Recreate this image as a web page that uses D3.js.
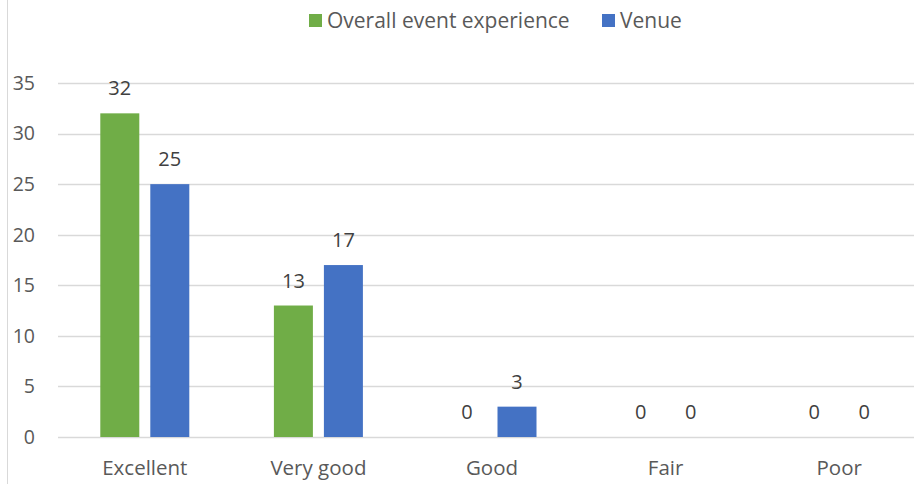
<!DOCTYPE html>
<html>
<head>
<meta charset="utf-8">
<script src="https://cdn.jsdelivr.net/npm/d3@7"></script>
<style>
  body { margin: 0; background: #fff; }
  svg { display: block; font-family: 'Open Sans', sans-serif; }
</style>
</head>
<body>
<svg></svg>
<script>
const categories = ['Excellent', 'Very good', 'Good', 'Fair', 'Poor'];
const seriesNames = ['Overall event experience', 'Venue'];
const overall = [32, 13, 0, 0, 0];
const venue = [25, 17, 3, 0, 0];
const yTicks = [0, 5, 10, 15, 20, 25, 30, 35];
const colors = ['#70ad47', '#4472c4'];

const width = 914;
const height = 484;
const margin = { top: 83, right: -12, bottom: 47, left: 58 };

const svg = d3.select('svg')
    .attr('width', width)
    .attr('height', height);

// chart border on the left
svg.append('line')
    .attr('x1', 7.5).attr('x2', 7.5)
    .attr('y1', 0).attr('y2', height)
    .attr('stroke', '#d9d9d9');

const x0 = d3.scaleBand()
    .domain(categories)
    .range([margin.left, width - margin.right]);

const y = d3.scaleLinear()
    .domain([0, 35])
    .range([height - margin.bottom, margin.top]);

const barW = 39;
const gap = 11;
const offsets = [-(barW + gap) / 2, (barW + gap) / 2];

// gridlines
svg.append('g')
  .selectAll('line')
  .data(yTicks)
  .enter().append('line')
    .attr('x1', margin.left)
    .attr('x2', width)
    .attr('y1', d => Math.round(y(d)) + 0.5)
    .attr('y2', d => Math.round(y(d)) + 0.5)
    .attr('stroke', '#d9d9d9')
    .attr('stroke-width', 1.3);

// y labels
svg.append('g')
  .selectAll('text')
  .data(yTicks)
  .enter().append('text')
    .attr('x', 35)
    .attr('y', d => y(d))
    .attr('dy', '0.35em')
    .attr('text-anchor', 'end')
    .attr('fill', '#595959')
    .style('font-size', '19.5px')
    .text(d => d);

// category labels
svg.append('g')
  .selectAll('text')
  .data(categories)
  .enter().append('text')
    .attr('x', d => x0(d) + x0.bandwidth() / 2)
    .attr('y', 468)
    .attr('dy', '0.35em')
    .attr('text-anchor', 'middle')
    .attr('fill', '#595959')
    .style('font-size', '20.5px')
    .text(d => d);

const series = [overall, venue];
series.forEach((vals, si) => {
  const g = svg.append('g');
  g.selectAll('rect')
    .data(vals)
    .enter().append('rect')
      .attr('x', (d, i) => x0(categories[i]) + x0.bandwidth() / 2 + offsets[si] - barW / 2)
      .attr('width', barW)
      .attr('y', d => y(d))
      .attr('height', d => y(0) - y(d))
      .attr('fill', colors[si]);

  // data labels
  g.selectAll('text')
    .data(vals)
    .enter().append('text')
      .attr('x', (d, i) => x0(categories[i]) + x0.bandwidth() / 2 + offsets[si])
      .attr('y', d => y(d) - 18)
      .attr('text-anchor', 'middle')
      .attr('fill', '#404040')
      .style('font-size', '20px')
      .text(d => d);
});

// legend
const legend = svg.append('g');
const legendItems = [
  { name: seriesNames[0], color: colors[0], x: 309 },
  { name: seriesNames[1], color: colors[1], x: 602 }
];
legendItems.forEach(it => {
  legend.append('rect')
    .attr('x', it.x).attr('y', 14)
    .attr('width', 13).attr('height', 13)
    .attr('fill', it.color);
  legend.append('text')
    .attr('x', it.x + 18)
    .attr('y', 20.5)
    .attr('dy', '0.35em')
    .attr('fill', '#595959')
    .style('font-size', '21px')
    .text(it.name);
});
</script>
</body>
</html>
